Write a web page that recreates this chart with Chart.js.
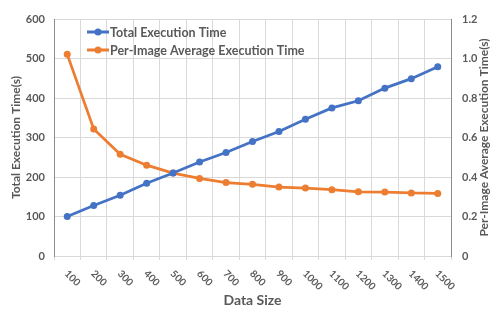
<!DOCTYPE html>
<html>
<head>
<meta charset="utf-8">
<script src="https://cdn.jsdelivr.net/npm/chart.js@4"></script>
<style>
  html, body { margin: 0; padding: 0; background: #fff; }
  #wrap { width: 491px; height: 310px; }
</style>
</head>
<body>
<div id="wrap"><canvas id="chart" width="491" height="310"></canvas></div>
<script>
// data
let dataSizes = ['100', '200', '300', '400', '500', '600', '700', '800', '900', '1000', '1100', '1200', '1300', '1400', '1500'];
let totalTime = [100, 128, 154, 184, 210, 238, 262, 290, 315, 346, 375, 393, 425, 449, 479];
let perImageTime = [1.021, 0.643, 0.515, 0.46, 0.42, 0.393, 0.372, 0.363, 0.349, 0.344, 0.336, 0.325, 0.324, 0.319, 0.317];
let leftTicks = [0, 100, 200, 300, 400, 500, 600];
let rightTicks = [0, 0.2, 0.4, 0.6, 0.8, 1, 1.2];
let rightTitle = 'Per-Image Average Execution Time(s)';

let grey = '#595959';
let fontName = 'Lato';

// x labels turned clockwise, like the spreadsheet did it
let slantLabels = {
    id: 'slantLabels',
    afterDraw(chart) {
        let ctx = chart.ctx;
        let xs = chart.scales.x;
        ctx.save();
        ctx.fillStyle = grey;
        ctx.font = 'bold 10px ' + fontName;
        ctx.textAlign = 'left';
        ctx.textBaseline = 'middle';
        xs.ticks.forEach((t, i) => {
            let x = xs.getPixelForTick(i);
            ctx.save();
            ctx.translate(x - 1, xs.top + 16);
            ctx.rotate(Math.PI / 4);
            ctx.fillText(xs.getLabelForValue(t.value), 0, 0);
            ctx.restore();
        });
        ctx.restore();
    }
};

// right title reads bottom to top, same as the left one
let rightAxisTitle = {
    id: 'rightAxisTitle',
    afterDraw(chart) {
        let ctx = chart.ctx;
        let area = chart.chartArea;
        ctx.save();
        ctx.fillStyle = grey;
        ctx.font = 'bold 12px ' + fontName;
        ctx.textAlign = 'center';
        ctx.textBaseline = 'middle';
        ctx.translate(484, (area.top + area.bottom) / 2);
        ctx.rotate(-Math.PI / 2);
        ctx.fillText(rightTitle, 0, 0);
        ctx.restore();
    }
};

// legend sits inside the plot
let innerLegend = {
    id: 'innerLegend',
    afterDraw(chart) {
        let ctx = chart.ctx;
        ctx.save();
        ctx.font = 'bold 12.5px ' + fontName;
        ctx.textBaseline = 'middle';
        chart.data.datasets.forEach((ds, i) => {
            let y = 32 + i * 18;
            ctx.strokeStyle = ds.borderColor;
            ctx.lineWidth = 3;
            ctx.beginPath();
            ctx.moveTo(87, y);
            ctx.lineTo(109, y);
            ctx.stroke();
            ctx.fillStyle = ds.borderColor;
            ctx.beginPath();
            ctx.arc(98, y, 3.5, 0, Math.PI * 2);
            ctx.fill();
            ctx.fillStyle = grey;
            ctx.fillText(ds.label, 110, y + 1);
        });
        ctx.restore();
    }
};

let ctx = document.querySelector('#chart').getContext('2d');
let chart = new Chart(ctx, {
    type: 'line',
    data: {
        labels: dataSizes,
        datasets: [{
            label: 'Total Execution Time',
            data: totalTime,
            yAxisID: 'y',
            borderColor: '#4472C4',
            backgroundColor: '#4472C4',
            borderWidth: 2.75,
            pointRadius: 3.5,
            pointBorderWidth: 0,
            tension: 0
        }, {
            label: 'Per-Image Average Execution Time',
            data: perImageTime,
            yAxisID: 'y1',
            borderColor: '#ED7D31',
            backgroundColor: '#ED7D31',
            borderWidth: 2.75,
            pointRadius: 3.5,
            pointBorderWidth: 0,
            tension: 0
        }]
    },
    options: {
        responsive: false,
        animation: false,
        layout: { padding: { top: 19, left: 0, right: 0, bottom: 0 } },
        plugins: {
            legend: { display: false },
            tooltip: { enabled: false }
        },
        scales: {
            x: {
                offset: true,
                grid: { offset: true, color: '#d9d9d9', tickLength: 4 },
                border: { color: '#d9d9d9' },
                ticks: { display: false },
                title: {
                    display: true,
                    text: 'Data Size',
                    color: grey,
                    font: { family: fontName, size: 14, weight: 'bold' },
                    padding: { top: 0, bottom: 1 }
                },
                afterFit(scale) { scale.height = 54; }
            },
            y: {
                position: 'left',
                min: 0,
                max: 600,
                afterBuildTicks(scale) { scale.ticks = leftTicks.map(v => ({ value: v })); },
                grid: { color: '#d9d9d9', drawTicks: false },
                border: { color: '#8c8c8c' },
                ticks: {
                    color: grey,
                    padding: 9,
                    font: { family: fontName, size: 11, weight: 'bold' }
                },
                title: {
                    display: true,
                    text: 'Total Execution Time(s)',
                    color: grey,
                    font: { family: fontName, size: 12, weight: 'bold' },
                    padding: { top: 9, bottom: 0 }
                },
                afterFit(scale) { scale.width = 54; }
            },
            y1: {
                position: 'right',
                min: 0,
                max: 1.2,
                afterBuildTicks(scale) { scale.ticks = rightTicks.map(v => ({ value: v })); },
                grid: { drawOnChartArea: false, drawTicks: false },
                border: { color: '#8c8c8c' },
                ticks: {
                    color: grey,
                    padding: 11,
                    font: { family: fontName, size: 11, weight: 'bold' }
                },
                afterFit(scale) { scale.width = 40; }
            }
        }
    },
    plugins: [slantLabels, rightAxisTitle, innerLegend]
});
</script>
</body>
</html>
